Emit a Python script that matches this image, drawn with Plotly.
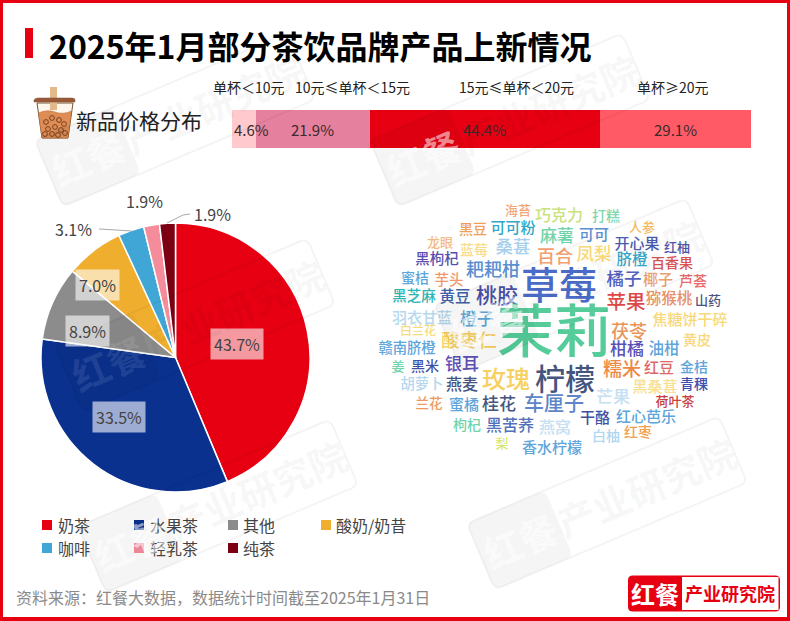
import math
import plotly.graph_objects as go

FONT = "Noto Sans CJK SC"
WORD_FONT = "Noto Sans CJK SC Medium, Noto Sans CJK SC"
W, H = 790, 621
RED = "#E60012"

# Price distribution of new products
price_bands = ["单杯＜10元", "10元≤单杯＜15元", "15元≤单杯＜20元", "单杯≥20元"]
price_share = [4.6, 21.9, 44.4, 29.1]

# Share of new products by drink category
categories = ["奶茶", "水果茶", "其他", "酸奶/奶昔", "咖啡", "轻乳茶", "纯茶"]
category_share = [43.7, 33.5, 8.9, 7.0, 3.1, 1.9, 1.9]

# Ingredient words shown in the cloud
words = [
    "海苔", "巧克力", "打糕", "黑豆", "可可粉", "麻薯", "可可", "人参", "开心果", "红柚",
    "龙眼", "蓝莓", "桑葚", "百合", "凤梨", "脐橙", "百香果", "黑枸杞", "耙耙柑", "蜜桔",
    "芋头", "草莓", "橘子", "椰子", "芦荟", "黑芝麻", "黄豆", "桃胶", "苹果", "猕猴桃",
    "山药", "羽衣甘蓝", "橙子", "茉莉", "焦糖饼干碎", "白兰花", "酸枣仁", "茯苓", "赣南脐橙", "柑橘",
    "油柑", "黄皮", "姜", "黑米", "银耳", "糯米", "红豆", "金桔", "玫瑰", "柠檬",
    "胡萝卜", "燕麦", "黑桑葚", "青稞", "芒果", "兰花", "蜜橘", "桂花", "车厘子", "荷叶茶",
    "干酪", "红心芭乐", "枸杞", "黑苦荞", "燕窝", "白柚", "红枣", "梨", "香水柠檬",
]

# Placement of each cloud word: centre x, centre y, font size, colour
word_style = [
    (518, 210, 13, "#F2A77A"), (559, 215, 16, "#C9E27E"), (606, 216, 14, "#7ED8B0"),
    (473, 229, 14, "#F0A050"), (513, 227, 15, "#2EA8C4"), (557, 236, 17, "#70D4AA"),
    (594, 234, 15, "#5B8FD0"), (642, 227, 13, "#F5B860"), (637, 243, 15, "#4A5BB0"),
    (677, 247, 13, "#5055A8"), (440, 242, 13, "#F3B985"), (474, 250, 14, "#F9DC8C"),
    (513, 247, 17.5, "#A5CFEC"), (555, 256, 18, "#F2A070"), (594, 254, 17.5, "#F8D878"),
    (632, 259, 15.5, "#35A8C8"), (672, 263, 14, "#D9534F"), (437, 259, 14.5, "#5A4FB0"),
    (493, 269, 18, "#5B8FD0"), (415, 278, 14, "#5DA5DA"), (449, 280, 14.5, "#F0986A"),
    (559, 285, 38, "#4A6BC8"), (624, 279, 17.5, "#5560C0"), (658, 279, 15, "#E9A070"),
    (693, 281, 14, "#E86A6A"), (414, 296, 14.5, "#2EB5B5"), (455, 296, 15.5, "#4060A8"),
    (497, 295, 21, "#4A50A8"), (626, 302, 19.5, "#E04848"), (669, 298, 15.5, "#E6906A"),
    (708, 300, 13, "#4A5580"), (422, 317, 15, "#B5D8EE"), (477, 319, 17, "#5FA8D8"),
    (554, 331, 57, "#55CC9A"), (690, 319, 15, "#F8D878"), (418, 331, 12, "#F5DC80"),
    (469, 340, 18.5, "#F8D060"), (629, 331, 18, "#E8955A"), (407, 348, 14.3, "#5DA5DA"),
    (627, 349, 17, "#5A50B8"), (664, 348, 15.5, "#5DA5DA"), (697, 340, 14, "#F8D878"),
    (398, 366, 13, "#70D4AA"), (425, 366, 14, "#4050A8"), (462, 364, 17, "#6050B8"),
    (622, 369, 19, "#EE8844"), (659, 367, 15, "#E06868"), (694, 367, 14, "#5DA5DA"),
    (506, 379, 24, "#F8D060"), (565, 379, 30, "#45557E"), (422, 384, 14.3, "#B5D8EE"),
    (462, 384, 16, "#45557E"), (655, 386, 15, "#F8E090"), (694, 384, 14, "#4050B0"),
    (613, 397, 17, "#C5E0F2"), (429, 403, 13.5, "#EE9960"), (464, 404, 15, "#5DA5DA"),
    (499, 404, 17, "#45557E"), (554, 404, 20, "#5F85C8"), (675, 401, 13, "#C84040"),
    (595, 417, 15, "#3F50A0"), (646, 416, 15, "#5DA5DA"), (467, 425, 14, "#70D4AA"),
    (510, 425, 16, "#5070B8"), (555, 427, 16, "#C5E0F2"), (606, 436, 14, "#AFD7F0"),
    (638, 432, 14, "#F0A050"), (502, 443, 13, "#D8E870"), (552, 447, 15, "#5DA5DA"),
]
# Text baseline correction, as a fraction of the font size
WORD_BASELINE_SHIFT = 0.12

band_colors = ["#FFC9CD", "#E5809E", RED, "#FF5A66"]
band_label_x = [249, 352, 516, 673]
pie_colors = ["#E60012", "#0B318F", "#8C8C8C", "#EFAE2E", "#3FA6D6", "#F58C9C", "#7B0012"]
pie_label_xy = [(237, 344), (119, 417), (87, 331), (97, 285), (73, 229), (144, 201), (212, 214)]
pie_label_boxed = [True, True, True, True, False, False, False]
legend_marker_x = [42, 134, 228, 321, 42, 134, 228]
legend_text_x = [57, 149, 242, 335, 57, 149, 242]
legend_y = [525, 525, 525, 525, 548, 548, 548]
# Watermark tiles: centre x, centre y, strength of the white lettering
watermark_tiles = [
    (175, 120, 0.55), (510, 120, 0.55), (195, 325, 0.10),
    (574, 285, 0.55), (218, 506, 0.55), (607, 503, 0.55),
]
WATERMARK_ANGLE = -23

fig = go.Figure()

# Stacked price bar
for band, share, color in zip(price_bands, price_share, band_colors):
    fig.add_trace(go.Bar(
        x=[share], y=["新品价格分布"], orientation="h", marker=dict(color=color, line=dict(width=0)),
        name=band, showlegend=False, hoverinfo="skip", xaxis="x", yaxis="y",
    ))

# Category pie, clockwise from twelve o'clock
fig.add_trace(go.Pie(
    labels=categories, values=category_share, sort=False, direction="clockwise", rotation=0,
    marker=dict(colors=pie_colors, line=dict(color="white", width=1.5)),
    textinfo="none", showlegend=False, hoverinfo="skip",
    domain=dict(x=[41 / W, 310 / W], y=[1 - 492 / H, 1 - 223 / H]),
))

# Word cloud on a full-canvas pixel axis
fig.add_trace(go.Scatter(
    x=[s[0] for s in word_style], y=[s[1] + WORD_BASELINE_SHIFT * s[2] for s in word_style],
    text=words, mode="text", textposition="middle center",
    textfont=dict(family=WORD_FONT, size=[s[2] for s in word_style], color=[s[3] for s in word_style]),
    showlegend=False, hoverinfo="skip", xaxis="x2", yaxis="y2",
))

shapes, notes = [], []


def rect(x0, y0, x1, y1, fill, layer="above"):
    shapes.append(dict(type="rect", xref="x2", yref="y2", x0=x0, y0=y0, x1=x1, y1=y1,
                       fillcolor=fill, line_width=0, layer=layer))


def text(x, y, s, size, color, anchor="center", weight=400, angle=0, bg=None, pad=0):
    notes.append(dict(xref="x2", yref="y2", x=x, y=y, text=s, showarrow=False, xanchor=anchor,
                      yanchor="middle", textangle=angle, bgcolor=bg, borderpad=pad,
                      font=dict(family=FONT, size=size, color=color, weight=weight)))


def path(d, fill="rgba(0,0,0,0)", line="rgba(0,0,0,0)", width=1):
    shapes.append(dict(type="path", xref="x2", yref="y2", path=d, fillcolor=fill,
                       line=dict(color=line, width=width), layer="above"))


def rotated_box(cx, cy, u0, u1, h, r):
    """Rounded rectangle along the watermark's axis, returned as an SVG path."""
    a = math.radians(WATERMARK_ANGLE)

    def p(u, v):
        return f"{cx + u * math.cos(a) - v * math.sin(a):.1f},{cy + u * math.sin(a) + v * math.cos(a):.1f}"

    v0, v1 = -h / 2, h / 2
    return (f"M{p(u0 + r, v0)} L{p(u1 - r, v0)} Q{p(u1, v0)} {p(u1, v0 + r)} "
            f"L{p(u1, v1 - r)} Q{p(u1, v1)} {p(u1 - r, v1)} L{p(u0 + r, v1)} "
            f"Q{p(u0, v1)} {p(u0, v1 - r)} L{p(u0, v0 + r)} Q{p(u0, v0)} {p(u0 + r, v0)} Z")


# Page frame
rect(0, 0, W, 3, RED)
rect(0, 617, W, H, RED)
rect(0, 0, 3, H, RED)
rect(787, 0, W, H, RED)

# Heading
rect(25, 28, 33, 58, RED)
text(48, 45, "2025年1月部分茶饮品牌产品上新情况", 32, "#000000", anchor="left", weight=700)

# Price bar heading and band names
text(75, 120, "新品价格分布", 21, "#222222", anchor="left")
for bx, band in zip(band_label_x, price_bands):
    text(bx, 87, band, 14, "#222222")

# Share labels sit at each segment's midpoint; the narrow first one starts at the bar's edge
running = 0
for i, share in enumerate(price_share):
    notes.append(dict(xref="x", yref="y", x=0 if i == 0 else running + share / 2, y="新品价格分布",
                      text=f"{share:.1f}%", showarrow=False, xanchor="left" if i == 0 else "center",
                      yanchor="middle", font=dict(family=FONT, size=15, color="#3A2A2A")))
    running += share

# Bubble tea cup
path("M37,103 L73,103 L68,138 L42,138 Z", fill="#FFF6EC", line="#7A5230", width=1)
path("M38.5,113 Q47,109 55,112 Q63,115 71.5,111 L68,138 L42,138 Z", fill="#DE8E55", line="#B56A35", width=0.5)
rect(50, 87, 57, 110, "#E2B98A")
path("M34,100 Q35,98 38,98 L72,98 Q75,98 75,100 L75,102 L34,102 Z", fill="#9A5A38", line="#7A5230", width=0.5)
for cup_x, cup_y in [(46, 122), (52, 118), (59, 120), (64, 124), (48, 129), (55, 127), (61, 130), (45, 134), (52, 134), (58, 135), (65, 133)]:
    shapes.append(dict(type="circle", xref="x2", yref="y2", x0=cup_x - 2.4, x1=cup_x + 2.4,
                       y0=cup_y - 2.4, y1=cup_y + 2.4, fillcolor="rgba(0,0,0,0)",
                       line=dict(color="#7A4020", width=1), layer="above"))

# Leader lines for the thin pie slices
path("M99,229 L132,231", line="#AAAAAA")
path("M167,223 L183,215 L190,214", line="#AAAAAA")

# Pie labels read from the category shares
for (lx, ly), share, boxed in zip(pie_label_xy, category_share, pie_label_boxed):
    text(lx, ly, f"{share:.1f}%", 16, "#444444", bg="rgba(255,255,255,0.6)" if boxed else None, pad=3)

# Category key
for name, color, mx, tx, ly in zip(categories, pie_colors, legend_marker_x, legend_text_x, legend_y):
    rect(mx, ly - 5, mx + 10, ly + 5, color)
    text(tx, ly, name, 16, "#444444", anchor="left")

# Source note
text(15, 597, "资料来源：红餐大数据，数据统计时间截至2025年1月31日", 16, "#8A8A8A", anchor="left")

# Brand mark, bottom right
path("M633,575.5 L775,575.5 Q780,575.5 780,580 L780,607 Q780,611.5 775,611.5 L633,611.5 Q628,611.5 628,607 L628,580 Q628,575.5 633,575.5 Z",
     fill=RED)
rect(682, 577, 778.5, 610, "#FFFFFF")
text(655, 593, "红餐", 24, "#FFFFFF", weight=700)
text(730, 593, "产业研究院", 18, RED, weight=700)

# Tiled watermark
rad = math.radians(WATERMARK_ANGLE)
for cx, cy, strength in watermark_tiles:
    path(rotated_box(cx, cy, -137, 137, 72, 8), line="rgba(0,0,0,0.045)", width=2)
    path(rotated_box(cx, cy, -137, -52, 72, 8), fill="rgba(0,0,0,0.04)")
    text(cx - 95 * math.cos(rad), cy - 95 * math.sin(rad), "红餐", 38, f"rgba(255,255,255,{strength})", weight=700, angle=WATERMARK_ANGLE)
    text(cx + 42 * math.cos(rad), cy + 42 * math.sin(rad), "产业研究院", 38, "rgba(0,0,0,0.05)", weight=700, angle=WATERMARK_ANGLE)

fig.update_layout(
    width=W, height=H, margin=dict(l=0, r=0, t=0, b=0), autosize=False,
    paper_bgcolor="white", plot_bgcolor="rgba(0,0,0,0)", barmode="stack", bargap=0,
    font=dict(family=FONT),
    xaxis=dict(domain=[232 / W, 751 / W], range=[0, 100], visible=False, fixedrange=True, anchor="y"),
    yaxis=dict(domain=[1 - 148 / H, 1 - 110 / H], visible=False, fixedrange=True, anchor="x"),
    xaxis2=dict(domain=[0, 1], range=[0, W], visible=False, fixedrange=True, anchor="y2"),
    yaxis2=dict(domain=[0, 1], range=[H, 0], visible=False, fixedrange=True, anchor="x2"),
    shapes=shapes, annotations=notes,
)

fig.write_html("out.html")
